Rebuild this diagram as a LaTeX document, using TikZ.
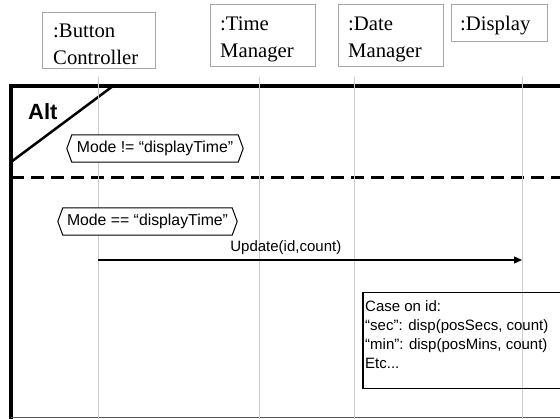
\documentclass[tikz,border=0pt]{standalone}
\usepackage{fontspec}
\setmainfont{Liberation Serif}
\setsansfont{Liberation Sans}
\usetikzlibrary{arrows.meta}
\definecolor{boxgray}{HTML}{A6A6A6}
\definecolor{lifegray}{HTML}{CCCCCC}
\definecolor{bottomgray}{HTML}{555555}
\begin{document}
\begin{tikzpicture}[x=1pt,y=-1pt,
  lbox/.style={draw=boxgray, line width=1pt, anchor=north west, inner sep=0pt},
  ltext/.style={font=\rmfamily\fontsize{20.7}{27}\selectfont, align=left, anchor=base west, inner sep=0pt},
  life/.style={draw=lifegray, line width=1pt},
  frameline/.style={line width=3.5pt},
  guardtext/.style={font=\sffamily\fontsize{15.8}{18}\selectfont, inner sep=0pt, minimum height=27pt, fill=white},
  guardline/.style={draw=black, line width=1pt},
  msg/.style={line width=1.3pt, -{Triangle[length=8pt,width=7pt]}},
  sans/.style={font=\sffamily\fontsize{15}{18}\selectfont},
]
\useasboundingbox (0,0) rectangle (560,419);

% lifeline heads
\node[lbox, minimum width=113pt, minimum height=56pt] (bc) at (42,12) {};
\node[ltext] (bct) at (53,65) {:Button\\Controller};
\node[lbox, minimum width=105pt, minimum height=62pt] (tm) at (210,4) {};
\node[ltext] (tmt) at (220,58) {:Time\\Manager};
\node[lbox, minimum width=105pt, minimum height=62pt] (dm) at (338,4) {};
\node[ltext] (dmt) at (348,58) {:Date\\Manager};
\node[lbox, minimum width=96pt, minimum height=37pt] (dp) at (451,4) {};
\node[ltext] (dpt) at (460,31) {:Display};

% frame
\draw[frameline] (570,86) -- (11,86) -- (11,425);
\draw[bottomgray, line width=1pt] (11,418) -- (570,418);
\draw[line width=2.5pt] (113,86) -- (11,162);
\node[font=\sffamily\bfseries\fontsize{22}{26}\selectfont, anchor=base west, inner sep=0pt] (alt) at (28,120) {Alt};
\draw[line width=3pt, dash pattern=on 13pt off 7pt] (11,178) -- (570,178);

% lifelines
\coordinate (l1a) at (98,77);  \coordinate (l1b) at (98,419);
\coordinate (l2a) at (259,77); \coordinate (l2b) at (259,419);
\coordinate (l3a) at (354,77); \coordinate (l3b) at (354,419);
\coordinate (l4a) at (522,77); \coordinate (l4b) at (522,419);
\draw[life] (l1a) -- (l1b);
\draw[life] (l2a) -- (l2b);
\draw[life] (l3a) -- (l3b);
\draw[life] (l4a) -- (l4b);

% guards
\node[guardtext, minimum width=166pt] (g1) at (155,148.5) {Mode != “displayTime”};
\draw[guardline] ([xshift=-5pt]g1.west) -- (g1.north west) -- (g1.north east) -- ([xshift=5pt]g1.east) -- (g1.south east) -- (g1.south west) -- cycle;
\node[guardtext, minimum width=169pt] (g2) at (147.5,221.5) {Mode == “displayTime”};
\draw[guardline] ([xshift=-5pt]g2.west) -- (g2.north west) -- (g2.north east) -- ([xshift=5pt]g2.east) -- (g2.south east) -- (g2.south west) -- cycle;

% message
\coordinate (m1) at (98,260);
\coordinate (m2) at (522,260);
\draw[msg] (m1) -- node[sans, pos=0.443, anchor=base, yshift=8pt, inner sep=0pt] (ml) {Update(id,count)} (m2);

% note
\node[draw=black, line width=1.5pt, anchor=north west, minimum width=230pt, minimum height=96pt, inner sep=0pt] (note) at (362,292) {};
\node[sans, font=\sffamily\fontsize{15}{19}\selectfont, align=left, anchor=base west, inner sep=0pt] (notet) at (365,369) {Case on id:\\“sec”: disp(posSecs, count)\\“min”: disp(posMins, count)\\Etc...};
\end{tikzpicture}
\end{document}
